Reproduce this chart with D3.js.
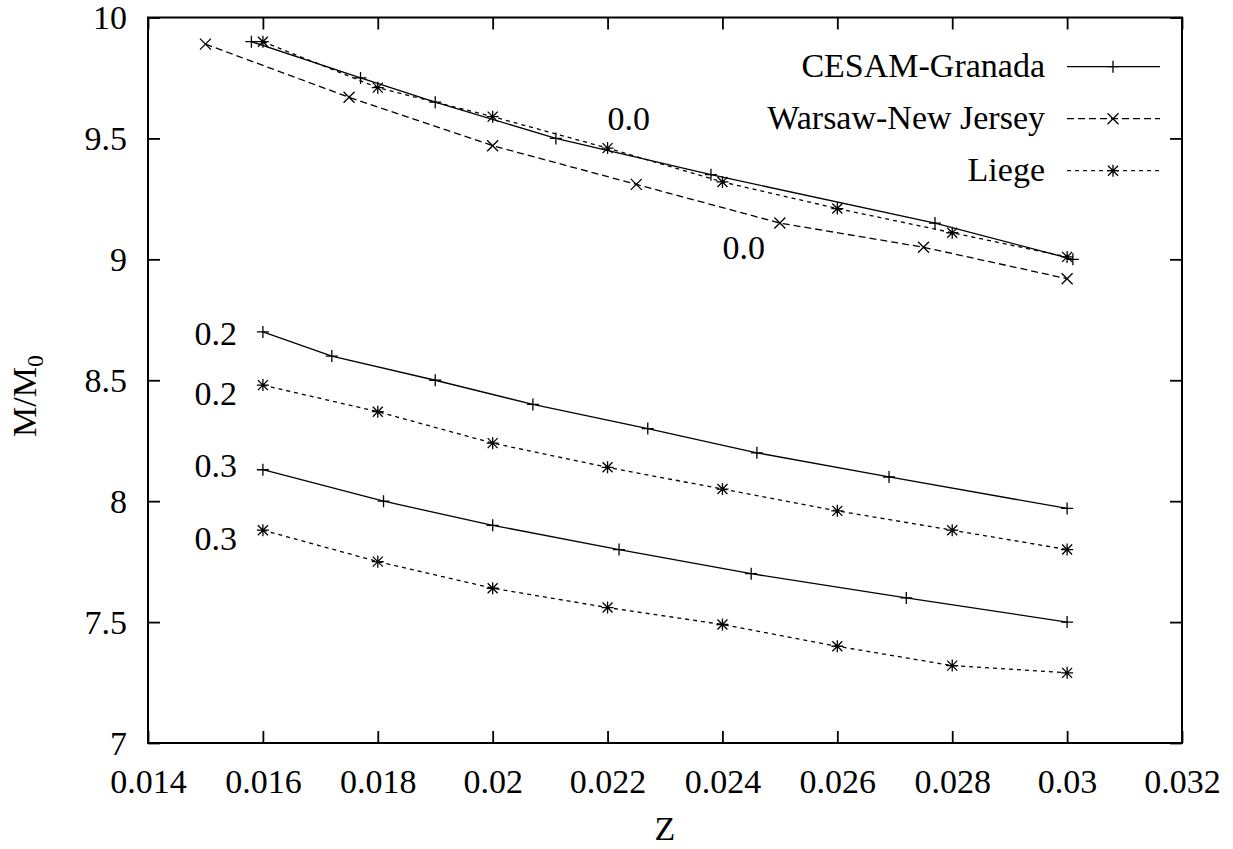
<!DOCTYPE html>
<html>
<head>
<meta charset="utf-8">
<script src="https://cdn.jsdelivr.net/npm/d3@7"></script>
<style>
  html, body { margin: 0; padding: 0; background: #fff; }
  svg { display: block; }
  svg text { font-family: "Liberation Serif", "DejaVu Serif", serif; }
</style>
</head>
<body>
<svg id="chart" width="1233" height="849"></svg>
<script>
// Axis tick values
const xTicks = [0.014, 0.016, 0.018, 0.02, 0.022, 0.024, 0.026, 0.028, 0.03, 0.032];
const yTicks = [7, 7.5, 8, 8.5, 9, 9.5, 10];

// CESAM-Granada tracks (overshoot 0.0, 0.2, 0.3)
const cesamZ00 = [0.0158, 0.0177, 0.0190, 0.0211, 0.0238, 0.0277, 0.0301];
const cesamM00 = [9.90, 9.75, 9.65, 9.50, 9.35, 9.15, 9.00];
const cesamZ02 = [0.0160, 0.0172, 0.0190, 0.0207, 0.0227, 0.0246, 0.0269, 0.0300];
const cesamM02 = [8.70, 8.60, 8.50, 8.40, 8.30, 8.20, 8.10, 7.97];
const cesamZ03 = [0.0160, 0.0181, 0.0200, 0.0222, 0.0245, 0.0272, 0.0300];
const cesamM03 = [8.13, 8.00, 7.90, 7.80, 7.70, 7.60, 7.50];

// Warsaw-New Jersey track (overshoot 0.0)
const warsawZ00 = [0.0150, 0.0175, 0.0200, 0.0225, 0.0250, 0.0275, 0.0300];
const warsawM00 = [9.89, 9.67, 9.47, 9.31, 9.15, 9.05, 8.92];

// Liege tracks (overshoot 0.0, 0.2, 0.3)
const liegeZ = [0.016, 0.018, 0.020, 0.022, 0.024, 0.026, 0.028, 0.030];
const liegeM00 = [9.90, 9.71, 9.59, 9.46, 9.32, 9.21, 9.11, 9.01];
const liegeM02 = [8.48, 8.37, 8.24, 8.14, 8.05, 7.96, 7.88, 7.80];
const liegeM03 = [7.88, 7.75, 7.64, 7.56, 7.49, 7.40, 7.32, 7.29];

// Overshoot labels beside the curves
const noteText = ["0.0", "0.0", "0.2", "0.2", "0.3", "0.3"];
const noteZ = [0.02237, 0.02437, 0.01518, 0.01518, 0.01518, 0.01518];
const noteM = [9.535, 9.002, 8.647, 8.399, 8.101, 7.800];

const legendNames = ["CESAM-Granada", "Warsaw-New Jersey", "Liege"];

const FS = 34;

const svg = d3.select("#chart");
const W = 1233, H = 849;
const plot = { left: 148, right: 1182, top: 17.5, bottom: 743 };

svg.append("rect").attr("width", W).attr("height", H).attr("fill", "#fff");

const x = d3.scaleLinear().domain([xTicks[0], xTicks[xTicks.length - 1]]).range([plot.left, plot.right]);
const y = d3.scaleLinear().domain([yTicks[0], yTicks[yTicks.length - 1]]).range([plot.bottom, plot.top]);

const xFmt = v => String(v);
const yFmt = v => String(v);

// Axes: ticks point inward on all four sides
function styleAxis(g) {
  g.attr("font-family", null).attr("font-size", null);
  g.select(".domain").remove();
  g.selectAll(".tick line").attr("stroke", "#000").attr("stroke-width", 1.8);
  g.selectAll("text").style("font-size", FS + "px").attr("fill", "#000");
}

const gx = svg.append("g").attr("transform", `translate(0,${plot.bottom})`)
  .call(d3.axisBottom(x).tickValues(xTicks).tickFormat(xFmt).tickSize(-12).tickPadding(0));
styleAxis(gx);
gx.selectAll("text").attr("y", 50).attr("dy", 0);

const gxt = svg.append("g").attr("transform", `translate(0,${plot.top})`)
  .call(d3.axisTop(x).tickValues(xTicks).tickFormat("").tickSize(-12));
styleAxis(gxt);

const gy = svg.append("g").attr("transform", `translate(${plot.left},0)`)
  .call(d3.axisLeft(y).tickValues(yTicks).tickFormat(yFmt).tickSize(-12).tickPadding(0));
styleAxis(gy);
gy.selectAll("text").attr("x", -21).attr("dy", "0.33em");

const gyr = svg.append("g").attr("transform", `translate(${plot.right},0)`)
  .call(d3.axisRight(y).tickValues(yTicks).tickFormat("").tickSize(-12));
styleAxis(gyr);

// Frame
svg.append("rect")
  .attr("x", plot.left).attr("y", plot.top)
  .attr("width", plot.right - plot.left).attr("height", plot.bottom - plot.top)
  .attr("fill", "none").attr("stroke", "#000").attr("stroke-width", 2);

// Axis titles
svg.append("text")
  .attr("x", (plot.left + plot.right) / 2).attr("y", 840)
  .attr("text-anchor", "middle")
  .style("font-size", FS + "px")
  .text("Z");

const yl = svg.append("text")
  .attr("transform", "translate(36,396) rotate(-90)")
  .attr("text-anchor", "middle")
  .style("font-size", FS + "px");
yl.append("tspan").text("M/M");
yl.append("tspan").style("font-size", (FS * 0.7) + "px").attr("dy", 7).text("0");

// Marker shapes
const markerPath = {
  plus: "M-6,0H6M0,-6V6",
  cross: "M-5.5,-5.5L5.5,5.5M-5.5,5.5L5.5,-5.5",
  star: "M-6,0H6M0,-6V6M-5,-5L5,5M-5,5L5,-5"
};
const styles = {
  cesam: { dash: null, marker: "plus" },
  warsaw: { dash: "7,4", marker: "cross" },
  liege: { dash: "4,4", marker: "star" }
};

const series = [
  { style: "cesam", z: cesamZ00, m: cesamM00 },
  { style: "warsaw", z: warsawZ00, m: warsawM00 },
  { style: "liege", z: liegeZ, m: liegeM00 },
  { style: "cesam", z: cesamZ02, m: cesamM02 },
  { style: "liege", z: liegeZ, m: liegeM02 },
  { style: "cesam", z: cesamZ03, m: cesamM03 },
  { style: "liege", z: liegeZ, m: liegeM03 }
];

const line = d3.line().x(d => x(d[0])).y(d => y(d[1]));

const gData = svg.append("g");
series.forEach(s => {
  const st = styles[s.style];
  const pts = s.z.map((z, i) => [z, s.m[i]]);
  gData.append("path")
    .attr("d", line(pts))
    .attr("fill", "none")
    .attr("stroke", "#000")
    .attr("stroke-width", 1.3)
    .attr("stroke-dasharray", st.dash);
  gData.selectAll(null).data(pts).enter().append("path")
    .attr("transform", d => `translate(${x(d[0])},${y(d[1])})`)
    .attr("d", markerPath[st.marker])
    .attr("fill", "none")
    .attr("stroke", "#000")
    .attr("stroke-width", 1.3);
});

// Overshoot labels
svg.append("g").selectAll("text").data(noteText).enter().append("text")
  .attr("x", (d, i) => x(noteZ[i]))
  .attr("y", (d, i) => y(noteM[i]))
  .attr("text-anchor", "middle")
  .style("font-size", FS + "px")
  .text(d => d);

// Legend
const legendKeys = ["cesam", "warsaw", "liege"];
const lg = svg.append("g");
legendNames.forEach((name, i) => {
  const ly = 66.7 + i * 52;
  const st = styles[legendKeys[i]];
  lg.append("text")
    .attr("x", 1045).attr("y", ly).attr("dy", "0.3em")
    .attr("text-anchor", "end")
    .style("font-size", FS + "px")
    .text(name);
  lg.append("line")
    .attr("x1", 1067).attr("x2", 1160).attr("y1", ly).attr("y2", ly)
    .attr("stroke", "#000").attr("stroke-width", 1.3)
    .attr("stroke-dasharray", st.dash);
  lg.append("path")
    .attr("transform", `translate(1113,${ly})`)
    .attr("d", markerPath[st.marker])
    .attr("fill", "none").attr("stroke", "#000").attr("stroke-width", 1.3);
});
</script>
</body>
</html>
